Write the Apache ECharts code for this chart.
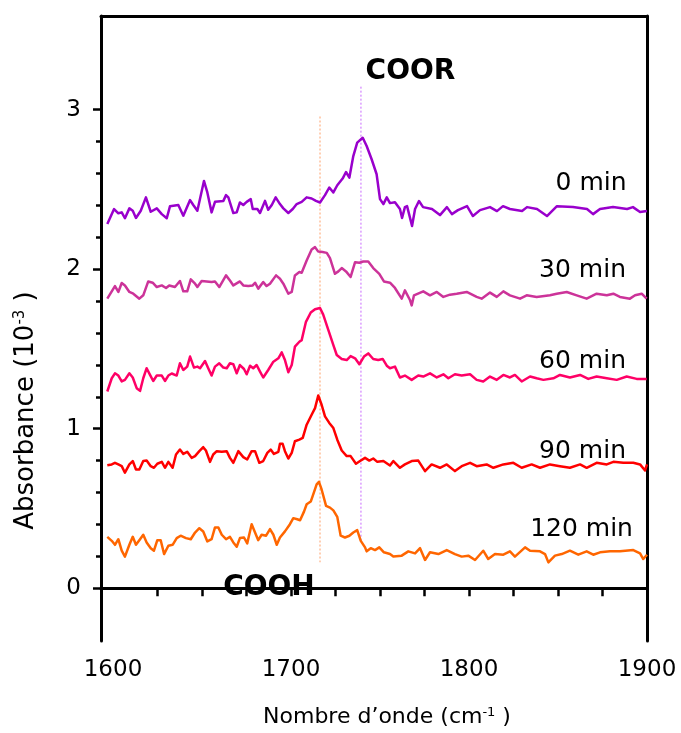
<!DOCTYPE html>
<html>
<head>
<meta charset="utf-8">
<script src="https://cdn.jsdelivr.net/npm/echarts@6/dist/echarts.min.js"></script>
<style>html,body{margin:0;padding:0;background:#fff;}#chart{width:681px;height:733px;}</style>
</head>
<body>
<div id="chart"></div>
<script>
// [wavenumber (cm-1), absorbance (10^-3)]
const spectrum0min = [[1596.8,2.283],[1600.6,2.377],[1603.0,2.350],[1604.9,2.356],[1606.7,2.319],[1609.2,2.381],[1611.1,2.366],[1612.9,2.321],[1615.6,2.366],[1618.5,2.450],[1621.2,2.360],[1624.6,2.381],[1627.4,2.345],[1630.2,2.319],[1632.0,2.394],[1636.7,2.402],[1639.5,2.335],[1643.3,2.433],[1645.1,2.402],[1647.4,2.366],[1651.1,2.553],[1653.0,2.481],[1655.4,2.356],[1657.3,2.422],[1662.0,2.428],[1663.5,2.464],[1664.8,2.450],[1667.6,2.352],[1669.5,2.356],[1671.3,2.418],[1673.2,2.402],[1675.1,2.422],[1677.4,2.439],[1678.5,2.377],[1681.1,2.377],[1682.6,2.352],[1685.4,2.428],[1687.2,2.372],[1689.2,2.402],[1691.4,2.450],[1693.8,2.408],[1695.7,2.381],[1698.5,2.352],[1701.0,2.377],[1703.2,2.408],[1706.0,2.422],[1708.8,2.450],[1711.6,2.443],[1714.0,2.428],[1716.3,2.418],[1719.1,2.464],[1721.5,2.512],[1723.8,2.481],[1726.0,2.526],[1729.0,2.568],[1730.9,2.609],[1732.8,2.574],[1735.0,2.709],[1737.2,2.793],[1740.3,2.824],[1742.5,2.772],[1745.3,2.689],[1748.1,2.595],[1750.0,2.439],[1751.9,2.408],[1753.8,2.450],[1755.6,2.414],[1758.4,2.420],[1761.2,2.377],[1762.4,2.321],[1764.0,2.389],[1765.2,2.395],[1768.0,2.271],[1769.7,2.377],[1771.9,2.427],[1774.2,2.389],[1779.2,2.377],[1783.7,2.339],[1787.6,2.389],[1790.4,2.345],[1793.8,2.370],[1798.9,2.395],[1802.2,2.333],[1806.2,2.370],[1811.8,2.389],[1815.7,2.364],[1819.1,2.395],[1823.0,2.377],[1829.8,2.364],[1832.6,2.389],[1838.2,2.377],[1843.8,2.333],[1849.4,2.395],[1858.4,2.389],[1866.3,2.377],[1869.7,2.345],[1873.6,2.377],[1880.9,2.389],[1888.8,2.377],[1892.1,2.389],[1896.1,2.358],[1900.0,2.364]];

const spectrum30min = [[1596.8,1.815],[1599.3,1.861],[1601.1,1.894],[1603.0,1.857],[1604.9,1.913],[1606.7,1.898],[1609.2,1.857],[1611.4,1.846],[1614.8,1.815],[1617.0,1.836],[1619.8,1.923],[1622.3,1.915],[1624.6,1.888],[1627.4,1.898],[1629.8,1.882],[1631.6,1.898],[1634.8,1.888],[1637.6,1.926],[1639.5,1.861],[1641.7,1.861],[1643.7,1.936],[1646.1,1.909],[1647.4,1.888],[1649.8,1.926],[1652.6,1.923],[1655.4,1.919],[1657.3,1.923],[1659.7,1.888],[1663.5,1.961],[1665.7,1.929],[1667.6,1.898],[1671.3,1.923],[1673.2,1.898],[1676.0,1.894],[1678.5,1.898],[1679.8,1.915],[1681.6,1.878],[1684.4,1.919],[1686.3,1.894],[1688.2,1.909],[1691.6,1.961],[1693.8,1.940],[1695.7,1.909],[1698.5,1.846],[1700.4,1.857],[1702.2,1.961],[1704.7,1.982],[1706.0,1.977],[1708.8,2.054],[1711.6,2.123],[1713.5,2.138],[1715.3,2.110],[1717.8,2.107],[1720.1,2.102],[1721.9,2.069],[1724.7,1.971],[1726.6,1.986],[1728.5,2.007],[1730.9,1.986],[1733.5,1.951],[1736.0,2.044],[1738.4,2.040],[1740.6,2.048],[1743.4,2.048],[1746.2,2.007],[1749.6,1.971],[1752.2,1.923],[1755.6,1.915],[1758.4,1.882],[1762.2,1.815],[1764.0,1.867],[1766.9,1.805],[1767.8,1.773],[1769.1,1.836],[1774.3,1.861],[1778.1,1.836],[1781.9,1.857],[1785.6,1.826],[1789.3,1.840],[1793.1,1.846],[1798.7,1.857],[1804.3,1.826],[1807.1,1.815],[1811.8,1.853],[1815.6,1.826],[1819.3,1.861],[1823.0,1.836],[1828.7,1.815],[1832.4,1.836],[1838.0,1.826],[1845.5,1.836],[1849.3,1.846],[1854.9,1.857],[1860.5,1.836],[1866.1,1.815],[1871.7,1.846],[1877.4,1.836],[1881.1,1.846],[1884.8,1.826],[1890.4,1.815],[1893.3,1.836],[1897.0,1.846],[1899.8,1.815]];

const spectrum60min = [[1596.8,1.233],[1599.3,1.316],[1601.1,1.347],[1603.0,1.333],[1604.9,1.296],[1606.7,1.306],[1609.2,1.347],[1611.1,1.321],[1613.3,1.254],[1615.2,1.237],[1617.0,1.316],[1618.9,1.379],[1620.8,1.337],[1622.6,1.299],[1624.6,1.333],[1627.4,1.333],[1629.2,1.299],[1631.1,1.333],[1633.0,1.346],[1635.8,1.333],[1637.6,1.410],[1639.5,1.368],[1641.7,1.389],[1643.3,1.452],[1645.5,1.383],[1647.4,1.389],[1648.9,1.379],[1651.7,1.424],[1653.5,1.379],[1655.4,1.333],[1657.3,1.389],[1659.7,1.410],[1662.0,1.383],[1663.9,1.379],[1665.7,1.410],[1667.6,1.404],[1669.5,1.347],[1671.3,1.399],[1673.6,1.374],[1675.1,1.341],[1677.0,1.395],[1678.8,1.379],[1680.7,1.399],[1682.6,1.358],[1684.4,1.321],[1687.2,1.368],[1690.1,1.420],[1692.9,1.441],[1694.8,1.478],[1696.6,1.430],[1698.5,1.354],[1700.4,1.399],[1702.2,1.514],[1704.7,1.545],[1706.0,1.555],[1708.4,1.670],[1711.1,1.728],[1713.5,1.749],[1716.3,1.757],[1718.1,1.715],[1721.0,1.618],[1723.8,1.524],[1725.7,1.462],[1728.5,1.437],[1731.3,1.430],[1733.5,1.455],[1736.0,1.441],[1738.4,1.404],[1741.0,1.452],[1743.4,1.472],[1746.2,1.437],[1749.0,1.430],[1751.5,1.437],[1753.8,1.395],[1755.6,1.379],[1758.4,1.389],[1761.2,1.321],[1764.0,1.333],[1767.8,1.306],[1771.5,1.333],[1774.3,1.327],[1778.1,1.347],[1781.9,1.321],[1785.6,1.341],[1788.4,1.316],[1792.1,1.341],[1795.9,1.333],[1800.6,1.341],[1804.3,1.306],[1808.0,1.296],[1811.8,1.327],[1815.6,1.306],[1819.3,1.337],[1823.0,1.321],[1825.8,1.337],[1829.6,1.296],[1834.3,1.327],[1838.0,1.316],[1841.8,1.306],[1847.4,1.316],[1851.1,1.337],[1856.7,1.321],[1862.4,1.337],[1867.0,1.312],[1871.7,1.327],[1877.4,1.316],[1883.0,1.306],[1888.6,1.327],[1894.2,1.312],[1899.8,1.312]];

const spectrum90min = [[1596.8,0.771],[1599.3,0.776],[1601.1,0.786],[1603.0,0.776],[1604.9,0.765],[1606.7,0.724],[1609.2,0.776],[1611.1,0.797],[1612.9,0.744],[1614.8,0.744],[1617.0,0.797],[1618.9,0.800],[1621.2,0.765],[1623.0,0.755],[1624.9,0.780],[1627.4,0.792],[1629.2,0.755],[1631.1,0.792],[1633.5,0.755],[1635.4,0.838],[1637.6,0.869],[1639.5,0.842],[1641.7,0.855],[1644.2,0.817],[1646.1,0.828],[1648.5,0.859],[1650.7,0.884],[1652.2,0.863],[1654.5,0.792],[1656.3,0.838],[1658.3,0.859],[1661.1,0.855],[1663.9,0.859],[1665.7,0.817],[1667.6,0.786],[1670.4,0.859],[1673.2,0.822],[1675.4,0.807],[1677.9,0.859],[1679.8,0.859],[1682.2,0.786],[1684.4,0.797],[1686.7,0.848],[1688.6,0.869],[1690.4,0.842],[1692.9,0.855],[1693.8,0.905],[1695.3,0.905],[1696.6,0.859],[1698.5,0.813],[1700.4,0.848],[1702.2,0.921],[1704.7,0.931],[1706.6,0.942],[1708.8,1.025],[1711.6,1.087],[1713.5,1.129],[1715.3,1.208],[1717.2,1.150],[1719.1,1.077],[1721.5,1.036],[1723.8,1.004],[1726.0,0.931],[1728.5,0.863],[1731.3,0.828],[1733.5,0.828],[1736.5,0.780],[1738.8,0.797],[1741.6,0.817],[1744.0,0.800],[1746.2,0.813],[1748.5,0.792],[1751.9,0.797],[1755.6,0.769],[1757.5,0.797],[1761.2,0.755],[1764.0,0.776],[1767.8,0.797],[1771.5,0.800],[1775.3,0.734],[1779.0,0.776],[1783.7,0.755],[1787.5,0.776],[1792.1,0.734],[1795.9,0.765],[1800.6,0.786],[1804.3,0.765],[1809.9,0.776],[1813.7,0.755],[1819.3,0.776],[1824.9,0.786],[1829.6,0.755],[1835.2,0.776],[1839.9,0.755],[1845.5,0.776],[1851.1,0.765],[1856.7,0.755],[1862.4,0.776],[1866.1,0.755],[1871.7,0.786],[1877.4,0.776],[1881.1,0.792],[1886.7,0.786],[1892.3,0.786],[1896.1,0.776],[1898.9,0.738],[1900.0,0.776]];

const spectrum120min = [[1596.8,0.322],[1599.3,0.297],[1601.1,0.272],[1603.0,0.307],[1604.9,0.235],[1606.7,0.198],[1609.2,0.272],[1611.1,0.322],[1612.9,0.272],[1615.2,0.307],[1617.0,0.335],[1618.9,0.287],[1621.2,0.251],[1623.0,0.235],[1624.9,0.301],[1626.8,0.301],[1628.7,0.214],[1631.1,0.266],[1633.5,0.272],[1635.8,0.314],[1638.0,0.329],[1641.0,0.314],[1643.7,0.307],[1646.1,0.349],[1648.5,0.376],[1650.7,0.356],[1653.0,0.293],[1655.4,0.307],[1657.3,0.381],[1659.2,0.381],[1661.1,0.335],[1663.5,0.307],[1665.7,0.322],[1667.6,0.287],[1669.5,0.260],[1671.3,0.314],[1673.6,0.318],[1675.4,0.281],[1677.9,0.401],[1679.8,0.349],[1681.6,0.301],[1683.5,0.335],[1686.0,0.329],[1688.2,0.370],[1690.1,0.335],[1692.0,0.272],[1693.8,0.318],[1696.6,0.356],[1699.4,0.401],[1701.3,0.439],[1703.5,0.432],[1705.1,0.426],[1707.3,0.480],[1708.8,0.526],[1711.1,0.543],[1712.5,0.588],[1714.4,0.651],[1715.7,0.667],[1717.2,0.619],[1719.7,0.516],[1721.9,0.505],[1723.8,0.488],[1726.0,0.447],[1727.9,0.329],[1730.3,0.318],[1732.8,0.329],[1735.0,0.349],[1737.2,0.364],[1739.2,0.297],[1741.6,0.256],[1742.5,0.231],[1744.8,0.251],[1747.2,0.239],[1749.6,0.256],[1752.2,0.225],[1755.6,0.214],[1757.5,0.198],[1762.2,0.204],[1765.9,0.231],[1769.7,0.218],[1772.5,0.251],[1775.3,0.177],[1778.1,0.225],[1782.8,0.214],[1787.5,0.239],[1792.1,0.214],[1795.9,0.198],[1799.6,0.204],[1803.4,0.177],[1808.0,0.235],[1810.8,0.183],[1814.6,0.214],[1819.3,0.210],[1823.0,0.231],[1825.8,0.198],[1831.5,0.256],[1834.3,0.235],[1839.9,0.231],[1842.7,0.214],[1844.6,0.162],[1848.3,0.204],[1852.1,0.214],[1856.7,0.235],[1861.4,0.210],[1866.1,0.231],[1869.8,0.210],[1873.6,0.225],[1879.2,0.231],[1884.8,0.231],[1892.3,0.239],[1896.1,0.218],[1897.9,0.183],[1900.0,0.210]];

// reference (dotted) lines
const coohGuide = [[1716.3, 2.957], [1716.3, 0.162]];
const coorGuide = [[1739.3, 3.144], [1739.3, 0.30]];

// curve labels: [x, y, text]
const timeLabels = [[1888.5, 2.54, '0 min'], [1888.2, 1.99, '30 min'], [1888.2, 1.42, '60 min'], [1888.2, 0.86, '90 min'], [1892.1, 0.37, '120 min']];
const groupLabels = [[1767.1, 3.235, 'COOR'], [1687.6, 0.0, 'COOH']];

// axes
const xMin = 1593.26, xMax = 1900;
const yMin = -0.331, yMax = 3.587;
const xTickLabels = [1600, 1700, 1800, 1900];
const xTicks = [1593.26, 1625, 1650, 1675, 1700, 1725, 1750, 1775, 1800, 1825, 1850, 1875, 1900];
const yTickLabels = [0, 1, 2, 3];
const yMinorTicks = [0.2, 0.4, 0.6, 0.8, 1.2, 1.4, 1.6, 1.8, 2.2, 2.4, 2.6, 2.8];

const FONT = 'DejaVu Sans';
const seriesDefs = [
  { name: '0 min', data: spectrum0min, color: '#9900CC' },
  { name: '30 min', data: spectrum30min, color: '#CC3399' },
  { name: '60 min', data: spectrum60min, color: '#FF0066' },
  { name: '90 min', data: spectrum90min, color: '#FF0000' },
  { name: '120 min', data: spectrum120min, color: '#FF6600' }
];

const chart = echarts.init(document.getElementById('chart'), null, { renderer: 'canvas' });

const series = [
  { type: 'line', data: coohGuide, showSymbol: false, silent: true, z: 1,
    lineStyle: { color: '#FF8844', width: 1, type: [2, 2], opacity: 0.8 } },
  { type: 'line', data: coorGuide, showSymbol: false, silent: true, z: 1,
    lineStyle: { color: '#BB44FF', width: 1, type: [2, 2], opacity: 0.8 } }
];
seriesDefs.forEach(s => series.push({
  type: 'line', name: s.name, data: s.data, showSymbol: false, z: 3,
  lineStyle: { color: s.color, width: 2.5, join: 'round' }, itemStyle: { color: s.color }
}));
series.push({
  type: 'scatter', symbolSize: 0, silent: true, z: 5,
  data: timeLabels.map(d => ({ value: [d[0], d[1]], name: d[2] })),
  label: { show: true, position: 'left', distance: 0, formatter: '{b}',
    fontFamily: FONT, fontSize: 25, color: '#000', opacity: 1 }
});
series.push({
  type: 'scatter', symbolSize: 0, silent: true, z: 5,
  data: groupLabels.map(d => ({ value: [d[0], d[1]], name: d[2] })),
  label: { show: true, position: 'inside', formatter: '{b}',
    fontFamily: FONT, fontSize: 28, fontWeight: 'bold', color: '#000', opacity: 1 }
});

chart.setOption({
  backgroundColor: '#fff',
  animation: false,
  grid: { left: 101, right: 34, top: 16, bottom: 89 },
  xAxis: [
    { type: 'value', min: xMin, max: xMax, position: 'bottom',
      axisLine: { show: true, lineStyle: { color: '#000', width: 3 } },
      axisTick: { show: true, inside: false, length: 8, lineStyle: { color: '#000', width: 2.5 }, customValues: xTicks },
      axisLabel: { show: true, margin: 18, fontFamily: FONT, fontSize: 23, color: '#000', customValues: xTickLabels,
        formatter: v => String(v) },
      splitLine: { show: false },
      name: 'Nombre d\u2019onde (cm{sup|-1} )', nameLocation: 'middle', nameGap: 65,
      nameTextStyle: { fontFamily: FONT, fontSize: 22, color: '#000', padding: [0, 0, 0, 26],
        rich: { sup: { fontFamily: FONT, fontSize: 13, verticalAlign: 'top', color: '#000' } } }
    },
    { type: 'value', min: xMin, max: xMax, position: 'top',
      axisLine: { show: true, onZero: false, lineStyle: { color: '#000', width: 3 } },
      axisTick: { show: false }, axisLabel: { show: false }, splitLine: { show: false } }
  ],
  yAxis: [
    { type: 'value', min: yMin, max: yMax, position: 'left',
      axisLine: { show: true, onZero: false, lineStyle: { color: '#000', width: 3 } },
      axisTick: { show: true, inside: false, length: 8, lineStyle: { color: '#000', width: 2.5 }, customValues: yTickLabels },
      axisLabel: { show: true, margin: 20, fontFamily: FONT, fontSize: 23, color: '#000', customValues: yTickLabels,
        formatter: v => String(v) },
      splitLine: { show: false },
      name: 'Absorbance (10{sup|-3} )', nameLocation: 'middle', nameRotate: 90, nameGap: 62,
      nameTextStyle: { fontFamily: FONT, fontSize: 26, color: '#000', padding: [0, 164, 0, 0],
        rich: { sup: { fontFamily: FONT, fontSize: 15, verticalAlign: 'top', color: '#000' } } }
    },
    { type: 'value', min: yMin, max: yMax, position: 'left',
      axisLine: { show: false },
      axisTick: { show: true, inside: false, length: 5, lineStyle: { color: '#000', width: 2.5 }, customValues: yMinorTicks },
      axisLabel: { show: false }, splitLine: { show: false } },
    { type: 'value', min: yMin, max: yMax, position: 'right',
      axisLine: { show: true, onZero: false, lineStyle: { color: '#000', width: 3 } },
      axisTick: { show: false }, axisLabel: { show: false }, splitLine: { show: false } }
  ],
  series: series
});
</script>
</body>
</html>
